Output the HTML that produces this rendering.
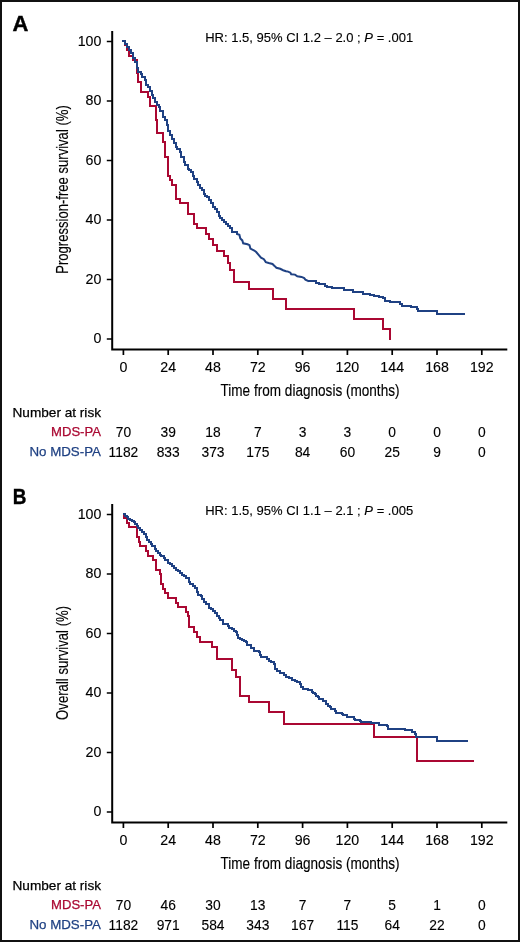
<!DOCTYPE html>
<html><head><meta charset="utf-8"><style>
html,body{margin:0;padding:0;background:#fff;}
body{width:520px;height:942px;overflow:hidden;}
svg{display:block;will-change:transform;}
text{font-family:"Liberation Sans",sans-serif;fill:#000;stroke:#000;stroke-width:0.25px;}
.tk{font-size:14.2px;stroke-width:0.12px;}
.ttl{font-size:17px;stroke-width:0.15px;}
.hr{font-size:12.8px;stroke-width:0.12px;}
.nr{font-size:13.2px;}
.nn{font-size:13.8px;stroke-width:0.12px;}
.lab{font-size:22px;font-weight:bold;fill:#000;stroke-width:0.4px;}
</style></head><body>
<svg width="520" height="942" viewBox="0 0 520 942">
<rect x="0" y="0" width="520" height="942" fill="#fff"/>
<text x="12.4" y="30.9" class="lab">A</text>
<text transform="translate(12.8 504.3) scale(0.86 1)" class="lab">B</text>
<g>
<path d="M112.2 31.1V350.4M111.2 349.4H507.3" stroke="#000" stroke-width="2" fill="none"/>
<path d="M106.8 41.5H112M106.8 101.0H112M106.8 160.5H112M106.8 220.0H112M106.8 279.5H112M106.8 339.0H112M123.4 349.4V354.9M168.2 349.4V354.9M213.0 349.4V354.9M257.8 349.4V354.9M302.6 349.4V354.9M347.4 349.4V354.9M392.2 349.4V354.9M437.0 349.4V354.9M481.8 349.4V354.9" stroke="#000" stroke-width="1.7" fill="none"/>
<text x="101.3" y="45.5" text-anchor="end" class="tk">100</text>
<text x="101.3" y="105.0" text-anchor="end" class="tk">80</text>
<text x="101.3" y="164.5" text-anchor="end" class="tk">60</text>
<text x="101.3" y="224.0" text-anchor="end" class="tk">40</text>
<text x="101.3" y="283.5" text-anchor="end" class="tk">20</text>
<text x="101.3" y="343.0" text-anchor="end" class="tk">0</text>
<text x="123.4" y="372.4" text-anchor="middle" class="tk">0</text>
<text x="168.2" y="372.4" text-anchor="middle" class="tk">24</text>
<text x="213.0" y="372.4" text-anchor="middle" class="tk">48</text>
<text x="257.8" y="372.4" text-anchor="middle" class="tk">72</text>
<text x="302.6" y="372.4" text-anchor="middle" class="tk">96</text>
<text x="347.4" y="372.4" text-anchor="middle" class="tk">120</text>
<text x="392.2" y="372.4" text-anchor="middle" class="tk">144</text>
<text x="437.0" y="372.4" text-anchor="middle" class="tk">168</text>
<text x="481.8" y="372.4" text-anchor="middle" class="tk">192</text>
<text x="310" y="396" text-anchor="middle" class="ttl" textLength="179" lengthAdjust="spacingAndGlyphs">Time from diagnosis (months)</text>
<text transform="translate(68.3 189.5) rotate(-90)" text-anchor="middle" class="ttl" textLength="168.5" lengthAdjust="spacingAndGlyphs">Progression-free survival (%)</text>
<text x="205.2" y="41.9" class="hr" textLength="208" lengthAdjust="spacingAndGlyphs">HR: 1.5, 95% CI 1.2 – 2.0 ; <tspan font-style="italic">P</tspan> = .001</text>
<text x="101" y="416.9" text-anchor="end" class="nr" textLength="88.5" lengthAdjust="spacingAndGlyphs">Number at risk</text>
<text x="101" y="435.9" text-anchor="end" class="nr" style="fill:#aa0832;stroke:#aa0832" textLength="50" lengthAdjust="spacingAndGlyphs">MDS-PA</text>
<text x="101" y="456.1" text-anchor="end" class="nr" style="fill:#1f4183;stroke:#1f4183" textLength="71.6" lengthAdjust="spacingAndGlyphs">No MDS-PA</text>
<text x="123.4" y="437.1" text-anchor="middle" class="nn">70</text>
<text x="168.2" y="437.1" text-anchor="middle" class="nn">39</text>
<text x="213.0" y="437.1" text-anchor="middle" class="nn">18</text>
<text x="257.8" y="437.1" text-anchor="middle" class="nn">7</text>
<text x="302.6" y="437.1" text-anchor="middle" class="nn">3</text>
<text x="347.4" y="437.1" text-anchor="middle" class="nn">3</text>
<text x="392.2" y="437.1" text-anchor="middle" class="nn">0</text>
<text x="437.0" y="437.1" text-anchor="middle" class="nn">0</text>
<text x="481.8" y="437.1" text-anchor="middle" class="nn">0</text>
<text x="123.4" y="456.8" text-anchor="middle" class="nn">1182</text>
<text x="168.2" y="456.8" text-anchor="middle" class="nn">833</text>
<text x="213.0" y="456.8" text-anchor="middle" class="nn">373</text>
<text x="257.8" y="456.8" text-anchor="middle" class="nn">175</text>
<text x="302.6" y="456.8" text-anchor="middle" class="nn">84</text>
<text x="347.4" y="456.8" text-anchor="middle" class="nn">60</text>
<text x="392.2" y="456.8" text-anchor="middle" class="nn">25</text>
<text x="437.0" y="456.8" text-anchor="middle" class="nn">9</text>
<text x="481.8" y="456.8" text-anchor="middle" class="nn">0</text>
</g>
<g transform="translate(0 473)">
<path d="M112.2 31.1V350.4M111.2 349.4H507.3" stroke="#000" stroke-width="2" fill="none"/>
<path d="M106.8 41.5H112M106.8 101.0H112M106.8 160.5H112M106.8 220.0H112M106.8 279.5H112M106.8 339.0H112M123.4 349.4V354.9M168.2 349.4V354.9M213.0 349.4V354.9M257.8 349.4V354.9M302.6 349.4V354.9M347.4 349.4V354.9M392.2 349.4V354.9M437.0 349.4V354.9M481.8 349.4V354.9" stroke="#000" stroke-width="1.7" fill="none"/>
<text x="101.3" y="45.5" text-anchor="end" class="tk">100</text>
<text x="101.3" y="105.0" text-anchor="end" class="tk">80</text>
<text x="101.3" y="164.5" text-anchor="end" class="tk">60</text>
<text x="101.3" y="224.0" text-anchor="end" class="tk">40</text>
<text x="101.3" y="283.5" text-anchor="end" class="tk">20</text>
<text x="101.3" y="343.0" text-anchor="end" class="tk">0</text>
<text x="123.4" y="372.4" text-anchor="middle" class="tk">0</text>
<text x="168.2" y="372.4" text-anchor="middle" class="tk">24</text>
<text x="213.0" y="372.4" text-anchor="middle" class="tk">48</text>
<text x="257.8" y="372.4" text-anchor="middle" class="tk">72</text>
<text x="302.6" y="372.4" text-anchor="middle" class="tk">96</text>
<text x="347.4" y="372.4" text-anchor="middle" class="tk">120</text>
<text x="392.2" y="372.4" text-anchor="middle" class="tk">144</text>
<text x="437.0" y="372.4" text-anchor="middle" class="tk">168</text>
<text x="481.8" y="372.4" text-anchor="middle" class="tk">192</text>
<text x="310" y="396" text-anchor="middle" class="ttl" textLength="179" lengthAdjust="spacingAndGlyphs">Time from diagnosis (months)</text>
<text transform="translate(68.3 189.9) rotate(-90)" text-anchor="middle" class="ttl" textLength="114" lengthAdjust="spacingAndGlyphs">Overall survival (%)</text>
<text x="205.2" y="41.9" class="hr" textLength="208" lengthAdjust="spacingAndGlyphs">HR: 1.5, 95% CI 1.1 – 2.1 ; <tspan font-style="italic">P</tspan> = .005</text>
<text x="101" y="416.9" text-anchor="end" class="nr" textLength="88.5" lengthAdjust="spacingAndGlyphs">Number at risk</text>
<text x="101" y="435.9" text-anchor="end" class="nr" style="fill:#aa0832;stroke:#aa0832" textLength="50" lengthAdjust="spacingAndGlyphs">MDS-PA</text>
<text x="101" y="456.1" text-anchor="end" class="nr" style="fill:#1f4183;stroke:#1f4183" textLength="71.6" lengthAdjust="spacingAndGlyphs">No MDS-PA</text>
<text x="123.4" y="437.1" text-anchor="middle" class="nn">70</text>
<text x="168.2" y="437.1" text-anchor="middle" class="nn">46</text>
<text x="213.0" y="437.1" text-anchor="middle" class="nn">30</text>
<text x="257.8" y="437.1" text-anchor="middle" class="nn">13</text>
<text x="302.6" y="437.1" text-anchor="middle" class="nn">7</text>
<text x="347.4" y="437.1" text-anchor="middle" class="nn">7</text>
<text x="392.2" y="437.1" text-anchor="middle" class="nn">5</text>
<text x="437.0" y="437.1" text-anchor="middle" class="nn">1</text>
<text x="481.8" y="437.1" text-anchor="middle" class="nn">0</text>
<text x="123.4" y="456.8" text-anchor="middle" class="nn">1182</text>
<text x="168.2" y="456.8" text-anchor="middle" class="nn">971</text>
<text x="213.0" y="456.8" text-anchor="middle" class="nn">584</text>
<text x="257.8" y="456.8" text-anchor="middle" class="nn">343</text>
<text x="302.6" y="456.8" text-anchor="middle" class="nn">167</text>
<text x="347.4" y="456.8" text-anchor="middle" class="nn">115</text>
<text x="392.2" y="456.8" text-anchor="middle" class="nn">64</text>
<text x="437.0" y="456.8" text-anchor="middle" class="nn">22</text>
<text x="481.8" y="456.8" text-anchor="middle" class="nn">0</text>
</g>
<g fill="none" stroke-width="2" stroke-linejoin="miter" stroke-linecap="butt">
<path d="M122 41H125V45H127V50H129V56H133V60H137V73H138V82H141V92H148V97H150V106H156V120H157V133H163V142H165V157H168V176H170V180H172V185H176V199H180V203H188V214H194V224H197V228H206V234H209V239H213V245H217V251H224V256H228V263H230V270H234V282H249V289H273V299H286V309H354V319H383V329H390V340" stroke="#aa0832"/>
<path d="M122 41H125V44H127V47H129V50H131V53H133V58H135V62H137V68H138V72H141V74H142V77H145V80H146V85H148V87H150V91H152V95H153V98H155V102H157V105H159V107H160V111H163V117H165V120H167V125H168V131H170V135H172V139H174V143H176V147H177V149H180V152H181V157H184V162H185V165H188V169H189V170H191V172H193V176H194V179H197V182H198V185H200V188H202V190H204V194H205V196H207V197H209V200H211V203H213V207H215V209H217V212H219V216H220V218H222V220H224V222H226V224H228V226H230V228H232V232H234H237V234L239.4,234.7 240.3,238.5 242.3,240.4 243.2,243.3 247.5,244.3 249.5,245.2 250.4,248.6 254.3,250.5 256.2,252.0 258.6,254.8 261.0,257.7 263.9,259.2 265.8,262.1 268.7,263.0 272.5,264.0 274.5,265.9 276.4,267.8 280.2,268.8 283.1,270.2 286.0,271.2 288.1,271.6 290.4,272.7 291.2,274.2 295.0,274.6 297.3,276.2 301.5,276.9 304.2,278.1 305.4,279.6 308.5,281.2L308,281H316V283H319V284H325V286H327V287H332V288H344V290H347H353V292H363V294H370V295H374V296H379V297H383V298H385V301H390V302H400V304H402V306H411V307H417V309H418V311H437V314H465" stroke="#1f4183"/>
<path d="M123 514H124V518H127V523H129V527H137V537H139V542H140V546H146V551H148V556H153V560H156V570H160V574H161V584H163V589H165V593H168V598H176V603H178V607H186V612H188V616H189V627H194V632H197V637H200V642H212V647H217V659H232V670H236V677H240V696H249V702H269V712H284V724H374V737H417V761H474" stroke="#aa0832"/>
<path d="M123 514H125V516H127V517H128V519H130V520H132V521H134V522H135V524H137V526H138V528H140V530H142V532H144V534H146V537H147V540H149V542H151V544H152V546H155V549H156V551H158V553H160V555H161V556H164V558H165V560H168V563H170V564H172V566H174V568H176V570H178V571H180V573H182V575H184V576H186V578H189V582H190V584H193V586H195V588H197V592H198V595H201V596H202V599H204V602H206V604H209V608H211V609H213V611H215V613H217V616H219V618H220V620H223V624H226H228V626H229V628H232V629H234V631H236V632H237V635H238V638H240V639H242V640H244V641H246V642H247V645H251V646V648H254V651H259V652H260V655H261V657H265H267V659H269V661H271V662H274V664H275V669H277V671H280V673H284V675H286V677H289V678H292V680H295V681H297V682H300V684H301V687H303V689H308V690H310H312V692H313V693H315V694H316V696H318V697H319V699H323V701H326V704H328V706H330V707H331V709H335V711H336V713H342V714H343V715H347V717H354V719H355V720H360V721H361V722H371V723H379V725H387V726H388V729H405V730H412V732H415V734H416V737H437V741H468" stroke="#1f4183"/>
</g>
<rect x="1" y="1" width="518" height="940" fill="none" stroke="#111" stroke-width="2"/>
</svg>
</body></html>
